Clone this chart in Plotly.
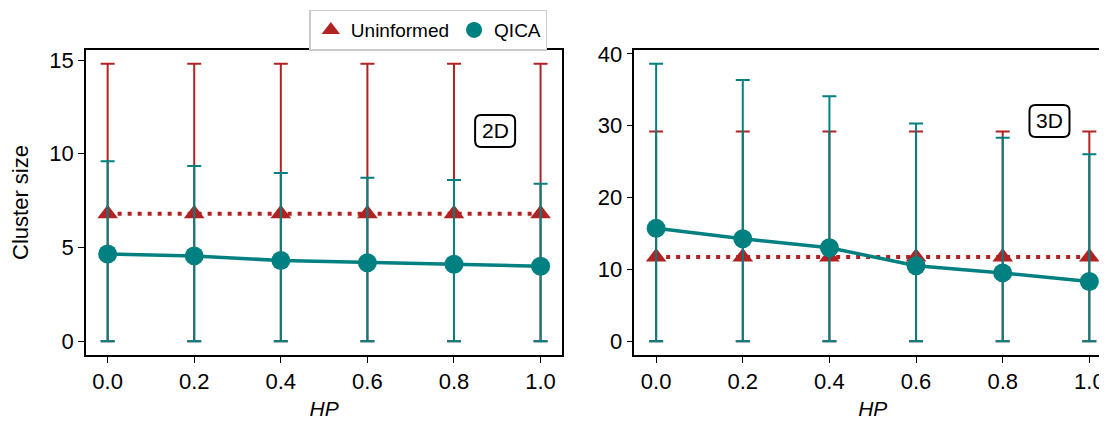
import plotly.graph_objects as go
from plotly.subplots import make_subplots

hp = [0.0, 0.2, 0.4, 0.6, 0.8, 1.0]
hp_labels = ["0.0", "0.2", "0.4", "0.6", "0.8", "1.0"]

# 2D panel
uninf_2d_mean = [6.8, 6.8, 6.8, 6.8, 6.8, 6.8]
uninf_2d_upper = [14.8, 14.8, 14.8, 14.8, 14.8, 14.8]
uninf_2d_lower = [0, 0, 0, 0, 0, 0]
qica_2d_mean = [4.65, 4.55, 4.3, 4.18, 4.1, 4.0]
qica_2d_upper = [9.6, 9.35, 8.98, 8.72, 8.6, 8.4]
qica_2d_lower = [0, 0, 0, 0, 0, 0]

# 3D panel
uninf_3d_mean = [11.7, 11.7, 11.7, 11.7, 11.7, 11.7]
uninf_3d_upper = [29.2, 29.2, 29.2, 29.2, 29.2, 29.2]
uninf_3d_lower = [0, 0, 0, 0, 0, 0]
qica_3d_mean = [15.7, 14.25, 13.0, 10.5, 9.5, 8.3]
qica_3d_upper = [38.6, 36.35, 34.1, 30.3, 28.3, 26.0]
qica_3d_lower = [0, 0, 0, 0, 0, 0]

RED = "#B22222"
TEAL = "#008080"
FONT = "Liberation Sans, Arial, sans-serif"

fig = make_subplots(rows=1, cols=2)
fig.update_layout(xaxis=dict(domain=[0, 0.4646]), xaxis2=dict(domain=[0.5351, 1]))


def err(mean, upper, lower, color):
    return dict(type="data", symmetric=False,
                array=[u - m for u, m in zip(upper, mean)],
                arrayminus=[m - l for m, l in zip(mean, lower)],
                color=color, thickness=2, width=7)


panels = [
    (1, uninf_2d_mean, uninf_2d_upper, uninf_2d_lower, qica_2d_mean, qica_2d_upper, qica_2d_lower),
    (2, uninf_3d_mean, uninf_3d_upper, uninf_3d_lower, qica_3d_mean, qica_3d_upper, qica_3d_lower),
]
for col, um, uu, ul, qm, qu, ql in panels:
    fig.add_trace(go.Scatter(
        x=hp, y=um, mode="lines+markers", showlegend=False,
        line=dict(color=RED, width=4, dash="4px,6px"),
        marker=dict(symbol="triangle-up", size=18, color=RED),
        error_y=err(um, uu, ul, RED)), row=1, col=col)
    fig.add_trace(go.Scatter(
        x=hp, y=qm, mode="lines+markers", showlegend=False,
        line=dict(color=TEAL, width=3.5),
        marker=dict(symbol="circle", size=19, color=TEAL),
        error_y=err(qm, qu, ql, TEAL)), row=1, col=col)

# legend entries
fig.add_trace(go.Scatter(x=[None], y=[None], mode="markers", name="Uninformed",
                         marker=dict(symbol="triangle-up", size=17, color=RED)), row=1, col=1)
fig.add_trace(go.Scatter(x=[None], y=[None], mode="markers", name="QICA",
                         marker=dict(symbol="circle", size=18, color=TEAL)), row=1, col=1)

axis_common = dict(showline=True, mirror=True, linecolor="black", linewidth=1.5,
                   ticks="outside", ticklen=6, tickwidth=1.4, tickcolor="black",
                   showgrid=False, zeroline=False, automargin=False,
                   tickfont=dict(family=FONT, size=22, color="black"))

for c in (1, 2):
    fig.update_xaxes(range=[-0.05, 1.05], tickvals=hp, ticktext=hp_labels,
                     title=dict(text="<i>HP</i>", font=dict(family=FONT, size=21, color="black"), standoff=8),
                     row=1, col=c, **axis_common)

fig.update_yaxes(range=[-0.74, 15.54], tickvals=[0, 5, 10, 15],
                 title=dict(text="Cluster size", font=dict(family=FONT, size=22, color="black"), standoff=18),
                 row=1, col=1, **axis_common)
fig.update_yaxes(range=[-1.93, 40.53], tickvals=[0, 10, 20, 30, 40], row=1, col=2, **axis_common)

# rounded label boxes
box_path = ("M -14,-16 L 14,-16 Q 20,-16 20,-10 L 20,10 Q 20,16 14,16 "
            "L -14,16 Q -20,16 -20,10 L -20,-10 Q -20,-16 -14,-16 Z")
labels = [("2D", "x", "y", 0.895, 11.22), ("3D", "x2", "y2", 0.908, 30.65)]
for txt, xr, yr, xc, yc in labels:
    fig.add_shape(type="path", xref=xr, yref=yr, xsizemode="pixel", ysizemode="pixel",
                  xanchor=xc, yanchor=yc, path=box_path,
                  line=dict(color="black", width=2), fillcolor="white", layer="above")
    fig.add_annotation(text=txt, xref=xr, yref=yr, x=xc, y=yc, xanchor="center", yanchor="middle",
                       showarrow=False, font=dict(family=FONT, size=21, color="black"))

fig.update_layout(
    width=1105, height=414,
    margin=dict(l=78, r=2, t=42, b=67),
    paper_bgcolor="white", plot_bgcolor="white",
    font=dict(family=FONT, size=20, color="black"),
    legend=dict(orientation="h", x=0.334, xanchor="center", y=0.998, yanchor="bottom",
                bordercolor="#cccccc", borderwidth=1.5, bgcolor="white",
                font=dict(family=FONT, size=19, color="black"),
                itemwidth=30, tracegroupgap=0),
)

fig.write_html("out.html")
